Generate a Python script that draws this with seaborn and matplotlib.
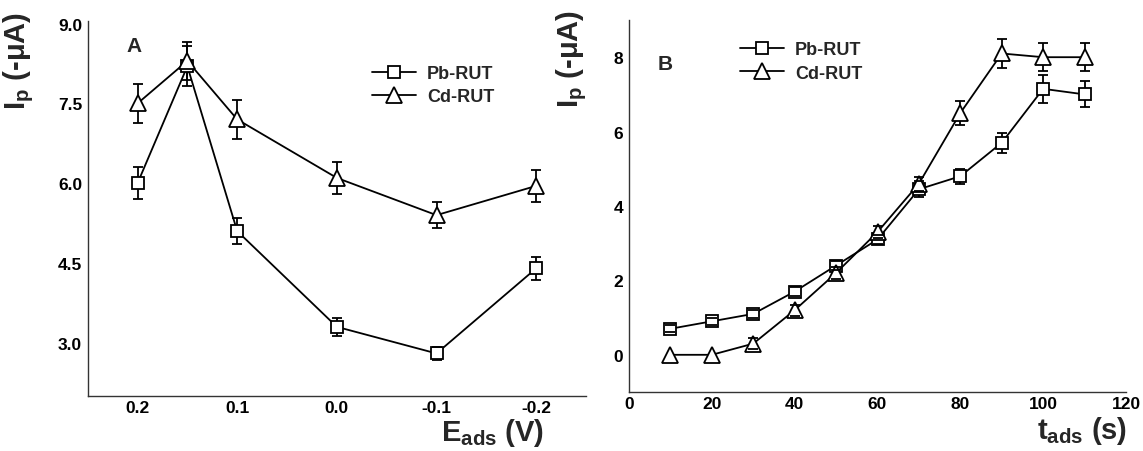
import matplotlib
matplotlib.use("Agg")
import matplotlib.pyplot as plt
import seaborn as sns
import pandas as pd

# ---------------- data ----------------
# Panel A : adsorption potential
e_ads = [0.2, 0.15, 0.1, 0.0, -0.1, -0.2]
pb_a = [6.0, 8.2, 5.1, 3.3, 2.8, 4.4]
pb_a_err = [0.3, 0.38, 0.25, 0.17, 0.13, 0.22]
cd_a = [7.5, 8.3, 7.2, 6.1, 5.4, 5.95]
cd_a_err = [0.36, 0.35, 0.36, 0.3, 0.25, 0.3]
a_xticks = [0.2, 0.1, 0.0, -0.1, -0.2]
a_xticklabels = ["0.2", "0.1", "0.0", "-0.1", "-0.2"]
a_yticks = [3.0, 4.5, 6.0, 7.5, 9.0]

# Panel B : adsorption time
t_ads = [10, 20, 30, 40, 50, 60, 70, 80, 90, 100, 110]
pb_b = [0.7, 0.9, 1.1, 1.7, 2.4, 3.1, 4.45, 4.8, 5.7, 7.15, 7.0]
pb_b_err = [0.1, 0.1, 0.1, 0.12, 0.12, 0.12, 0.22, 0.2, 0.27, 0.38, 0.35]
cd_b = [0.0, 0.0, 0.3, 1.2, 2.2, 3.3, 4.6, 6.5, 8.1, 8.0, 8.0]
cd_b_err = [0.0, 0.0, 0.15, 0.15, 0.15, 0.15, 0.19, 0.33, 0.4, 0.38, 0.38]
b_xticks = [0, 20, 40, 60, 80, 100, 120]
b_yticks = [0, 2, 4, 6, 8]

labels = ["Pb-RUT", "Cd-RUT"]

# ---------------- style ----------------
sns.set_theme(style="white")
plt.rcParams["font.family"] = ["Liberation Sans", "DejaVu Sans"]
plt.rcParams["font.weight"] = "bold"
plt.rcParams["mathtext.fontset"] = "custom"
plt.rcParams["mathtext.rm"] = "Liberation Sans"
plt.rcParams["mathtext.bf"] = "Liberation Sans:bold"
plt.rcParams["mathtext.default"] = "bf"

W, H = 1143, 452
fig = plt.figure(figsize=(W / 100, H / 100), dpi=100)
fig.patch.set_facecolor("white")


def px_axes(l, t, r, b):
    return fig.add_axes([l / W, 1 - b / H, (r - l) / W, (b - t) / H])


axA = px_axes(87.7, 22, 586, 397)
axB = px_axes(629, 21, 1126, 393)

LW = 1.3


def draw(ax, x, y, err, marker, ms, label):
    df = pd.DataFrame({"x": x, "y": y})
    sns.lineplot(data=df, x="x", y="y", ax=ax, color="black", lw=LW,
                 marker=marker, markersize=ms, markerfacecolor="white",
                 markeredgecolor="black", markeredgewidth=LW,
                 label=label, zorder=3)
    xs = [a for a, e in zip(x, err) if e > 0]
    ys = [a for a, e in zip(y, err) if e > 0]
    es = [e for e in err if e > 0]
    _, caps, bars = ax.errorbar(xs, ys, yerr=es, fmt="none", ecolor="black",
                                elinewidth=LW, capsize=3.5, capthick=LW,
                                zorder=2)
    for c in caps:
        c.set_zorder(4)


draw(axA, e_ads, pb_a, pb_a_err, "s", 8, labels[0])
draw(axA, e_ads, cd_a, cd_a_err, "^", 11, labels[1])
draw(axB, t_ads, pb_b, pb_b_err, "s", 8, labels[0])
draw(axB, t_ads, cd_b, cd_b_err, "^", 11, labels[1])

# axes limits / ticks
axA.set_xlim(0.25, -0.25)
axA.set_ylim(2.0, 9.05)
axA.set_xticks(a_xticks)
axA.set_xticklabels(a_xticklabels)
axA.set_yticks(a_yticks)
axA.set_yticklabels([f"{v:.1f}" for v in a_yticks])

axB.set_xlim(0, 120)
axB.set_ylim(-1, 9)
axB.set_xticks(b_xticks)
axB.set_yticks(b_yticks)

for ax in (axA, axB):
    ax.set_xlabel("")
    ax.set_ylabel("")
    for s in ("top", "right"):
        ax.spines[s].set_visible(False)
    for s in ("left", "bottom"):
        ax.spines[s].set_color("#333333")
        ax.spines[s].set_linewidth(1.0)
    ax.tick_params(axis="both", length=0, labelsize=12.5, colors="black")
    ax.tick_params(axis="x", pad=3)
    ax.tick_params(axis="y", pad=4)
    for t in ax.get_xticklabels() + ax.get_yticklabels():
        t.set_fontweight("bold")
    ax.set_facecolor("white")
    ax.grid(False)

# legends
for ax, (lx, ly) in ((axA, (372, 86)), (axB, (740, 62.5))):
    h, l = ax.get_legend_handles_labels()
    ax.legend(h, l, loc="center left", bbox_to_anchor=(lx / W, 1 - ly / H),
              bbox_transform=fig.transFigure, frameon=False, borderpad=0,
              borderaxespad=0, handlelength=2.45, handletextpad=0.6,
              labelspacing=0.35, prop={"size": 13, "weight": "bold"})

# panel letters
fig.text(134 / W, 1 - 47 / H, "A", ha="center", va="center",
         fontsize=15, fontweight="bold")
fig.text(665 / W, 1 - 64 / H, "B", ha="center", va="center",
         fontsize=15, fontweight="bold")

# y labels
ylab = r"I$_{\mathbf{p}}$ (-μA)"
fig.text(19 / W, 1 - 12 / H, ylab, rotation=90, ha="center", va="top",
         fontsize=21, fontweight="bold")
fig.text(572 / W, 1 - 10 / H, ylab, rotation=90, ha="center", va="top",
         fontsize=21, fontweight="bold")

# x labels
fig.text(544 / W, 3 / H, r"E$_{\mathbf{ads}}$ (V)", ha="right",
         va="bottom", fontsize=21, fontweight="bold")
fig.text(1127 / W, 5 / H, r"t$_{\mathbf{ads}}$ (s)", ha="right",
         va="bottom", fontsize=21, fontweight="bold")

fig.savefig("out.png", dpi=100, facecolor="white")
